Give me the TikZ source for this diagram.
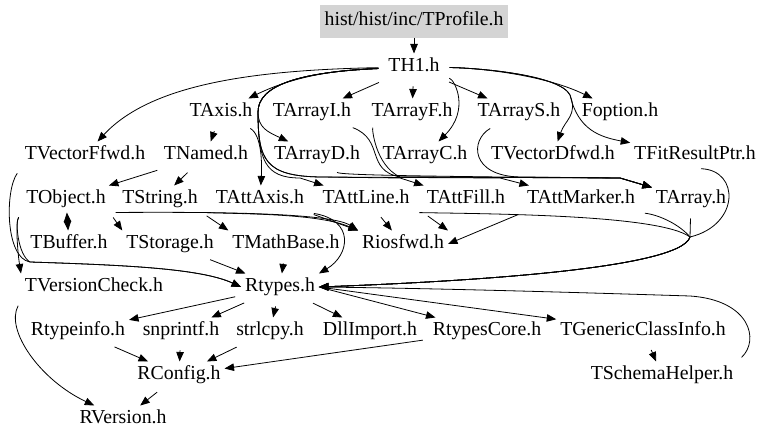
\documentclass[tikz,border=0pt]{standalone}
\usepackage{fontspec}
\setmainfont{Liberation Serif}
\usetikzlibrary{arrows.meta}
\begin{document}
\begin{tikzpicture}[x=1bp,y=-1bp,
  nd/.style={inner sep=0pt,outer xsep=4bp,outer ysep=5bp,text height=13bp,text depth=4bp,font=\fontsize{19.8bp}{22bp}\selectfont},
  ed/.style={draw=black,line width=0.8bp,shorten <=6bp,-{Triangle[length=9.5bp,width=7.5bp]}}]
\useasboundingbox (0,0) rectangle (768,440);
\node[nd,fill=black!17,minimum width=188bp,minimum height=33bp,outer sep=0pt] (prof) at (414,21.5) {hist/hist/inc/TProfile.h};
\node[nd] (th1) at (414,67) {TH1.h};
\node[nd] (taxis) at (221,112) {TAxis.h};
\node[nd] (tarrayi) at (312,112) {TArrayI.h};
\node[nd] (tarrayf) at (412,112) {TArrayF.h};
\node[nd] (tarrays) at (519,112) {TArrayS.h};
\node[nd] (foption) at (620,112) {Foption.h};
\node[nd] (tvff) at (85,155) {TVectorFfwd.h};
\node[nd] (tnamed) at (206,155) {TNamed.h};
\node[nd] (tarrayd) at (317,155) {TArrayD.h};
\node[nd] (tarrayc) at (425,155) {TArrayC.h};
\node[nd] (tvdf) at (553,155) {TVectorDfwd.h};
\node[nd] (tfrp) at (695,155) {TFitResultPtr.h};
\node[nd] (tobject) at (66,199) {TObject.h};
\node[nd] (tstring) at (160,199) {TString.h};
\node[nd] (tattaxis) at (260,199) {TAttAxis.h};
\node[nd] (tattline) at (366,199) {TAttLine.h};
\node[nd] (tattfill) at (466,199) {TAttFill.h};
\node[nd] (tattmarker) at (581,199) {TAttMarker.h};
\node[nd] (tarray) at (691,199) {TArray.h};
\node[nd] (tbuffer) at (69,244) {TBuffer.h};
\node[nd] (tstorage) at (170,244) {TStorage.h};
\node[nd] (tmathbase) at (286,244) {TMathBase.h};
\node[nd] (riosfwd) at (403,244) {Riosfwd.h};
\node[nd] (tvcheck) at (94,287) {TVersionCheck.h};
\node[nd] (rtypes) at (280,287) {Rtypes.h};
\node[nd] (rtypeinfo) at (78,331) {Rtypeinfo.h};
\node[nd] (snprintf) at (181,331) {snprintf.h};
\node[nd] (strlcpy) at (270,331) {strlcpy.h};
\node[nd] (dllimport) at (370,331) {DllImport.h};
\node[nd] (rtypescore) at (487,331) {RtypesCore.h};
\node[nd] (tgci) at (643,331) {TGenericClassInfo.h};
\node[nd] (rconfig) at (179,375) {RConfig.h};
\node[nd] (tschema) at (662,375) {TSchemaHelper.h};
\node[nd] (rversion) at (123,419) {RVersion.h};
\coordinate (m) at (690,237);

\draw[ed,shorten <=0bp] (prof) -- (th1);
\draw[ed] (th1) .. controls (250,70) and (150,85) .. (tvff);
\draw[ed] (th1) .. controls (330,70) and (290,78) .. (taxis);
\draw[ed] (th1) -- (tarrayi);
\draw[ed] (th1) -- (tarrayf);
\draw[ed] (th1) -- (tarrays);
\draw[ed] (th1) .. controls (480,68) and (545,75) .. (foption);
\draw[ed] (th1) .. controls (480,68) and (560,75) .. (570,95) .. controls (578,115) and (565,120) .. (tvdf);
\draw[ed] (th1) .. controls (480,68) and (560,75) .. (570,95) .. controls (578,130) and (600,137) .. (tfrp);
\draw[ed] (th1) .. controls (455,80) and (470,110) .. (tarrayc);
\draw[ed] (taxis) -- (tnamed);
\draw[ed] (th1) .. controls (300,72) and (258,85) .. (258,112) .. controls (258,128) and (268,132) .. (tarrayd);
\draw[ed] (taxis) .. controls (262,135) and (262,165) .. (tattaxis);
\draw[ed] (th1) .. controls (300,72) and (258,85) .. (258,112) .. controls (258,160) and (265,178) .. (300,178) -- (tattline);
\draw[ed] (th1) .. controls (300,72) and (258,85) .. (258,112) .. controls (258,160) and (265,176) .. (320,177) -- (400,178) -- (tattfill);
\draw[ed] (th1) .. controls (300,72) and (258,85) .. (258,112) .. controls (258,160) and (265,176) .. (320,177) -- (500,178) -- (tattmarker);
\draw[ed] (tarrayd) .. controls (340,175) and (420,176) .. (500,177) -- (620,178) -- (tarray);
\draw[ed] (tarrays) .. controls (470,140) and (470,176) .. (520,177) -- (620,178) -- (tarray);
\draw[ed] (tarrayi) .. controls (385,140) and (365,170) .. (400,177) -- (620,178) -- (tarray);
\draw[ed] (tarrayf) .. controls (372,128) and (375,165) .. (400,177) -- (620,178) -- (tarray);

\draw[ed] (tnamed) -- (tobject);
\draw[ed] (tnamed) -- (tstring);
\draw[ed] (tobject) -- (tbuffer);
\draw[ed] (tbuffer) -- (tobject);
\draw[ed] (tobject.south east) -- (tstorage.north west);
\draw[ed] (tobject.south east) .. controls (200,212) and (330,212) .. (riosfwd.north west);
\draw[ed] (tstring.south east) -- (tmathbase.north west);
\draw[ed] (tstring.south east) .. controls (250,214) and (320,214) .. (riosfwd.north west);
\draw[ed] (tattaxis.south east) -- (riosfwd.north west);
\draw[ed] (tattaxis.south east) .. controls (355,220) and (350,255) .. (rtypes.north east);
\draw[ed] (tattline) -- (riosfwd);
\draw[ed] (tattfill.south west) -- (riosfwd.north east);
\draw[ed] (tattmarker.south west) -- (riosfwd.east);

\draw[ed] (tattline.south east) .. controls (500,214) and (660,215) .. (m) .. controls (680,270) and (450,282) .. (rtypes.east);
\draw[ed] (tattmarker.south east) .. controls (660,215) and (680,225) .. (m) .. controls (680,270) and (450,282) .. (rtypes.east);
\draw[ed] (tarray) -- (m) .. controls (680,270) and (450,282) .. (rtypes.east);
\draw[ed] (tfrp.south) .. controls (740,170) and (740,225) .. (m) .. controls (680,270) and (450,282) .. (rtypes.east);
\draw[ed] (tschema.north east) .. controls (760,340) and (750,300) .. (690,296) .. controls (500,290) and (400,288) .. (rtypes.east);

\draw[ed] (tobject.south west) .. controls (15,222) and (18,255) .. (tvcheck.north west);
\draw[ed] (tvff.south west) .. controls (5,190) and (5,258) .. (30,262) .. controls (120,265) and (200,268) .. (rtypes.west);
\draw[ed] (tobject.south west) .. controls (15,222) and (18,255) .. (30,262) .. controls (120,265) and (200,268) .. (rtypes.west);
\draw[ed] (tstorage) -- (rtypes);
\draw[ed] (tmathbase) -- (rtypes);
\draw[ed] (tvcheck.south west) .. controls (5,330) and (40,380) .. (rversion);

\draw[ed] (rtypes) -- (rtypeinfo);
\draw[ed] (rtypes) -- (snprintf);
\draw[ed] (rtypes) -- (strlcpy);
\draw[ed] (rtypes) -- (dllimport);
\draw[ed] (rtypes.east) -- (rtypescore);
\draw[ed] (rtypes.east) -- (tgci);
\draw[ed] (rtypeinfo) -- (rconfig);
\draw[ed] (snprintf) -- (rconfig);
\draw[ed] (strlcpy) -- (rconfig);
\draw[ed] (rtypescore) -- (rconfig);
\draw[ed] (rconfig) -- (rversion);
\draw[ed] (tgci) -- (tschema);
\end{tikzpicture}
\end{document}
